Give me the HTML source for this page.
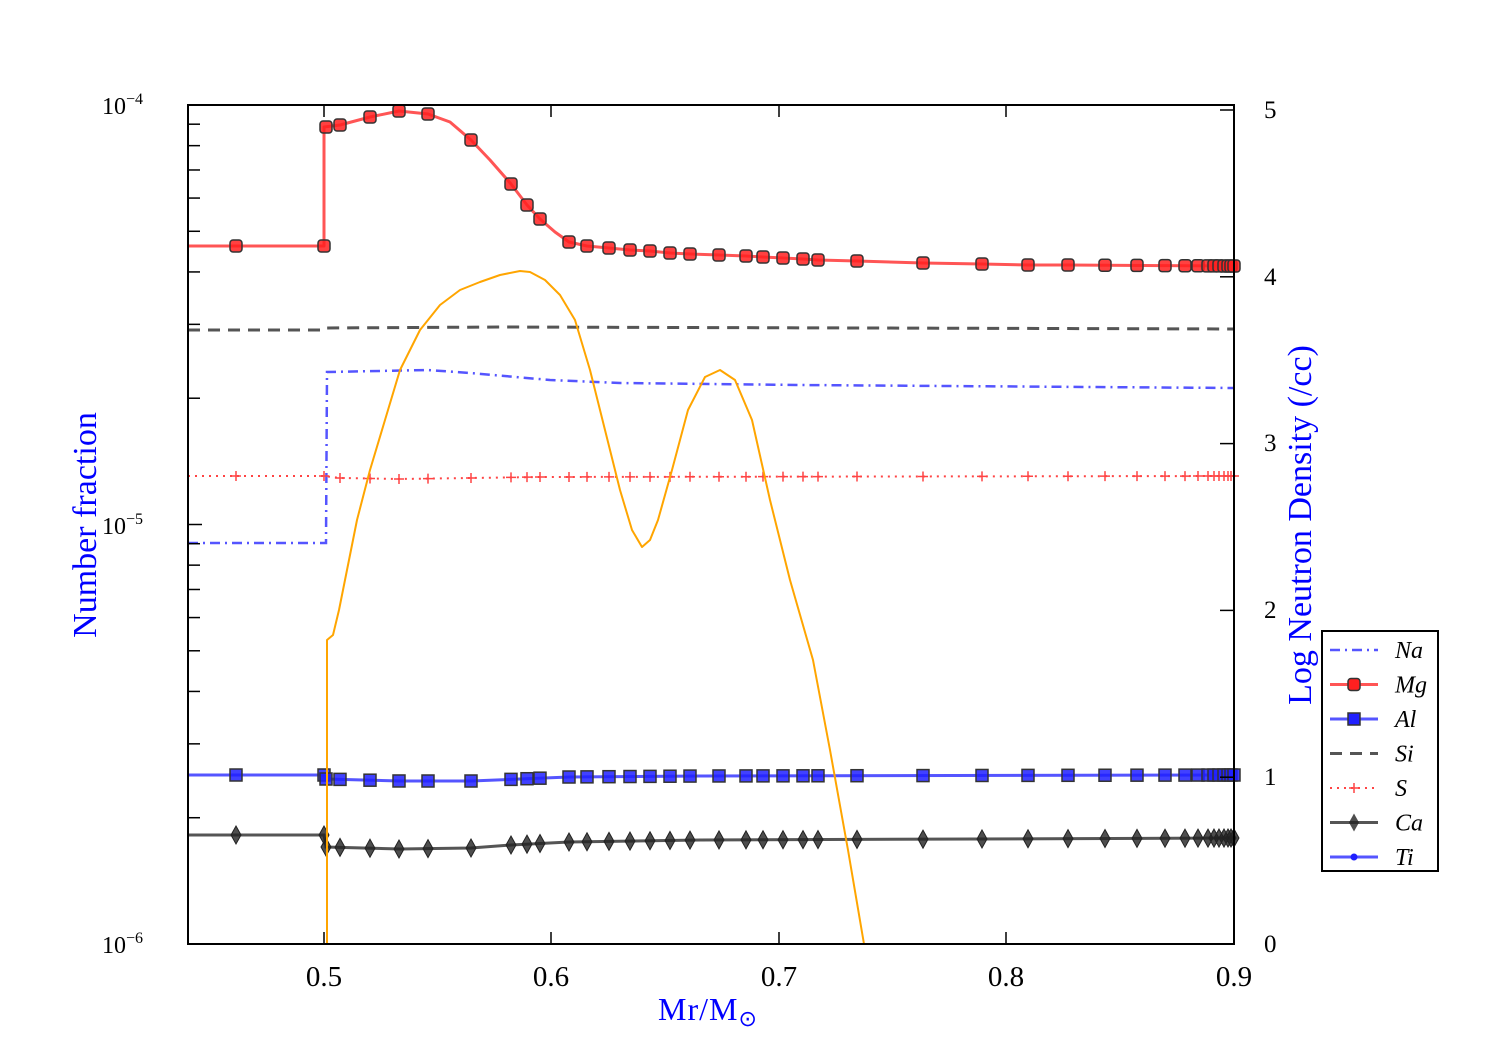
<!DOCTYPE html>
<html><head><meta charset="utf-8"><style>
body{margin:0;background:#fff;width:1500px;height:1050px;overflow:hidden}
text{font-family:"Liberation Serif",serif}
</style></head><body>
<svg id="s" width="1500" height="1050" xmlns="http://www.w3.org/2000/svg">
<g id="data"></g>
<rect x="188" y="105" width="1046" height="839" fill="none" stroke="#000" stroke-width="2"/>
<g id="ticks" stroke="#000" stroke-width="1.5"></g>
<g font-size="29" text-anchor="middle">
<text x="324" y="986">0.5</text><text x="551" y="986">0.6</text><text x="779" y="986">0.7</text><text x="1006" y="986">0.8</text><text x="1234" y="986">0.9</text>
</g>
<g font-size="24">
<text x="102" y="114">10<tspan dy="-10" font-size="16">−4</tspan></text>
<text x="102" y="534">10<tspan dy="-10" font-size="16">−5</tspan></text>
<text x="102" y="953">10<tspan dy="-10" font-size="16">−6</tspan></text>
</g>
<g font-size="25">
<text x="1264" y="118">5</text><text x="1264" y="285">4</text><text x="1264" y="451">3</text><text x="1264" y="618">2</text><text x="1264" y="785">1</text><text x="1264" y="952">0</text>
</g>
<text x="708" y="1020" font-size="32" fill="#0000ff" text-anchor="middle" letter-spacing="1">Mr/M<tspan font-size="22" dy="6">⊙</tspan></text>
<text transform="translate(96,525) rotate(-90)" font-size="34" fill="#0000ff" text-anchor="middle">Number fraction</text>
<text transform="translate(1311,525) rotate(-90)" font-size="34" fill="#0000ff" text-anchor="middle">Log Neutron Density (/cc)</text>
<g id="leg"></g>
</svg>
<script>
const NS="http://www.w3.org/2000/svg";
function el(p,t,a){const e=document.createElementNS(NS,t);for(const k in a)e.setAttribute(k,a[k]);p.appendChild(e);return e;}
const tk=document.getElementById('ticks');
[324,551,779,1006,1234].forEach(x=>{el(tk,'line',{x1:x,y1:944,x2:x,y2:932});el(tk,'line',{x1:x,y1:105,x2:x,y2:117});});
const D=419.5;
for(let d=0;d<2;d++){const b=944-d*D;el(tk,'line',{x1:188,y1:b,x2:202,y2:b});
 for(let k=2;k<10;k++){const y=b-D*Math.log10(k);el(tk,'line',{x1:188,y1:y,x2:200,y2:y});}}
el(tk,'line',{x1:188,y1:105,x2:202,y2:105});
for(let i=0;i<=5;i++){const y=944-i*166.8;el(tk,'line',{x1:1234,y1:y,x2:1220,y2:y});}
const g=document.getElementById('data');
const xs=[236,324,340,370,399,428,471,511,527,540,569,587,609,630,650,670,690,719,746,763,783,803,818,857,923,982,1028,1068,1105,1137,1165,1185,1198,1208,1214,1219,1224,1228,1231,1234];
function interp(pts,x){for(let i=0;i<pts.length-1;i++){if(x>=pts[i][0]&&x<=pts[i+1][0]){const t=(x-pts[i][0])/(pts[i+1][0]-pts[i][0]||1);return pts[i][1]+t*(pts[i+1][1]-pts[i][1]);}}return pts[pts.length-1][1];}
function P(a){return a.map(p=>p.join(',')).join(' ');}
el(g,'polyline',{points:P([[188,330],[324,330],[326,328],[500,327],[1234,329]]),fill:'none',stroke:'#555',"stroke-width":3,"stroke-dasharray":"12,8"});
el(g,'polyline',{points:P([[188,543],[326,543],[327,372],[428,370],[470,373],[550,380],[620,383],[800,385],[1234,388]]),fill:'none',stroke:'#5555ff',"stroke-width":2.5,"stroke-dasharray":"10,5,2,5"});
const sp=[[188,476],[324,476],[340,478],[400,479],[470,478],[540,477],[1234,476]];
el(g,'polyline',{points:P(sp),fill:'none',stroke:'#ff4444',"stroke-width":2,"stroke-dasharray":"2,5"});
xs.forEach(x=>{const y=interp(sp,x);el(g,'path',{d:`M${x-5},${y}h10M${x},${y-5}v10`,stroke:'#ff4444',"stroke-width":1.5});});
const mg=[[188,246],[324,246],[324.01,127],[340,125],[370,117],[399,111],[428,114],[450,122],[471,140],[490,160],[511,184],[527,205],[540,219],[555,232],[569,242],[587,246],[609,248],[630,250],[650,251],[670,253],[690,254],[719,255],[746,256],[763,257],[783,258],[803,259],[818,260],[857,261],[923,263],[982,264],[1028,265],[1068,265],[1234,266]];
el(g,'polyline',{points:P(mg),fill:'none',stroke:'#ff5555',"stroke-width":3,"stroke-linejoin":"round"});
const mgm=[[236,246],[324,246],[326,127]].concat(xs.slice(2).map(x=>[x,interp(mg,x)]));
mgm.forEach(([x,y])=>el(g,'rect',{x:x-6,y:y-6,width:12,height:12,rx:3,fill:'#ff2020',"fill-opacity":0.85,stroke:'#333',"stroke-width":1.5}));
const al=[[188,775],[324,775],[326,779],[400,781],[471,781],[569,777],[700,776],[1234,775]];
el(g,'polyline',{points:P(al),fill:'none',stroke:'#5555ff',"stroke-width":3});
[[236,775],[324,775],[326,779]].concat(xs.slice(2).map(x=>[x,interp(al,x)])).forEach(([x,y])=>el(g,'rect',{x:x-6,y:y-6,width:12,height:12,fill:'#2020ff',"fill-opacity":0.85,stroke:'#333',"stroke-width":1.5}));
const ca=[[188,835],[324,835],[326,847],[400,849],[471,848],[511,845],[569,842],[700,840],[1234,838]];
el(g,'polyline',{points:P(ca),fill:'none',stroke:'#555',"stroke-width":3});
[[236,835],[324,835],[326,847]].concat(xs.slice(2).map(x=>[x,interp(ca,x)])).forEach(([x,y])=>el(g,'path',{d:`M${x},${y-9}L${x+5},${y}L${x},${y+9}L${x-5},${y}Z`,fill:'#222',"fill-opacity":0.8,stroke:'#222',"stroke-width":1}));
const o=[[327,944],[327,640],[333,635],[339,610],[345,580],[357,520],[370,470],[385,420],[400,370],[420,330],[440,305],[460,290],[480,282],[500,275],[520,271],[530,272],[545,280],[560,295],[575,320],[590,370],[605,430],[620,490],[632,530],[642,547],[650,540],[658,520],[672,470],[688,410],[705,377],[720,370],[735,380],[752,420],[770,500],[790,580],[813,660],[830,750],[848,850],[864,944]];
el(g,'polyline',{points:P(o),fill:'none',stroke:'#ffa500',"stroke-width":2,"stroke-linejoin":"round"});
const L=document.getElementById('leg');
el(L,'rect',{x:1322,y:631,width:116,height:240,fill:'#fff',stroke:'#000',"stroke-width":2});
const names=['Na','Mg','Al','Si','S','Ca','Ti'];
names.forEach((n,i)=>{const y=650+i*34.5;const a=1330,b=1378,m=1354;
 if(n=='Na')el(L,'line',{x1:a,y1:y,x2:b,y2:y,stroke:'#5555ff',"stroke-width":2.5,"stroke-dasharray":"10,5,2,5"});
 if(n=='Mg'){el(L,'line',{x1:a,y1:y,x2:b,y2:y,stroke:'#ff5555',"stroke-width":3});el(L,'rect',{x:m-6,y:y-6,width:12,height:12,rx:3,fill:'#ff2020',stroke:'#333',"stroke-width":1.5});}
 if(n=='Al'){el(L,'line',{x1:a,y1:y,x2:b,y2:y,stroke:'#5555ff',"stroke-width":3});el(L,'rect',{x:m-6,y:y-6,width:12,height:12,fill:'#2020ff',stroke:'#333',"stroke-width":1.5});}
 if(n=='Si')el(L,'line',{x1:a,y1:y,x2:b,y2:y,stroke:'#555',"stroke-width":3,"stroke-dasharray":"12,8"});
 if(n=='S'){el(L,'line',{x1:a,y1:y,x2:b,y2:y,stroke:'#ff4444',"stroke-width":2,"stroke-dasharray":"2,5"});el(L,'path',{d:`M${m-5},${y}h10M${m},${y-5}v10`,stroke:'#ff4444',"stroke-width":1.5});}
 if(n=='Ca'){el(L,'line',{x1:a,y1:y,x2:b,y2:y,stroke:'#555',"stroke-width":3});el(L,'path',{d:`M${m},${y-9}L${m+5},${y}L${m},${y+9}L${m-5},${y}Z`,fill:'#222',"fill-opacity":0.8});}
 if(n=='Ti'){el(L,'line',{x1:a,y1:y,x2:b,y2:y,stroke:'#5555ff',"stroke-width":3});el(L,'circle',{cx:m,cy:y,r:3.5,fill:'#2020ff'});}
 const t=el(L,'text',{x:1395,y:y+8,"font-size":24,"font-style":"italic"});t.textContent=n;});
</script>
</body></html>
